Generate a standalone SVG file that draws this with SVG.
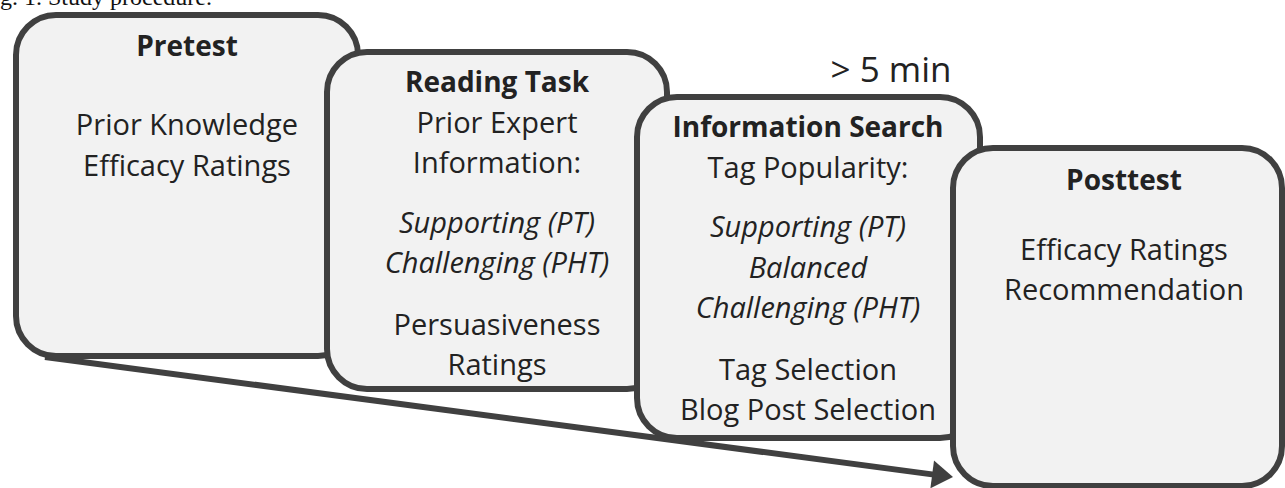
<svg xmlns="http://www.w3.org/2000/svg" width="1285" height="488" viewBox="0 0 1285 488">
<style>
.box{fill:#f2f2f2;stroke:#404040;stroke-width:6}
text{font-family:"Open Sans","Liberation Sans",sans-serif;fill:#222;text-anchor:middle;font-size:29px}
.h{font-weight:bold;font-size:28px}
.i{font-style:italic}
.cap{font-family:"Liberation Serif",serif;font-size:24px;text-anchor:start;fill:#111}
</style>
<text class="cap" x="0" y="5">g. 1. Study procedure.</text>
<g id="connectors">
<line x1="45" y1="357" x2="934" y2="474.6" stroke="#404040" stroke-width="6"/>
<polygon points="953,477 930.4,488.3 934,460.5" fill="#404040"/>
</g>
<g id="pretest">
<rect class="box" x="16" y="15" width="342" height="341" rx="40"/>
<text class="h" x="187" y="56">Pretest</text>
<text x="187" y="135">Prior Knowledge</text>
<text x="187" y="176">Efficacy Ratings</text>
</g>
<g id="reading">
<rect class="box" x="327" y="52" width="340" height="337" rx="40"/>
<text class="h" x="497" y="92">Reading Task</text>
<text x="497" y="133">Prior Expert</text>
<text x="497" y="173">Information:</text>
<text class="i" x="497" y="233">Supporting (PT)</text>
<text class="i" x="497" y="273">Challenging (PHT)</text>
<text x="497" y="335">Persuasiveness</text>
<text x="497" y="375">Ratings</text>
</g>
<text x="891" y="82" style="font-size:35px">&gt; 5 min</text>
<g id="search">
<rect class="box" x="637" y="97" width="343" height="341" rx="40"/>
<text class="h" x="808" y="137">Information Search</text>
<text x="808" y="178">Tag Popularity:</text>
<text class="i" x="808" y="237">Supporting (PT)</text>
<text class="i" x="808" y="278">Balanced</text>
<text class="i" x="808" y="318">Challenging (PHT)</text>
<text x="808" y="380">Tag Selection</text>
<text x="808" y="420">Blog Post Selection</text>
</g>
<g id="posttest">
<rect class="box" x="953" y="148" width="329" height="338" rx="40"/>
<text class="h" x="1124" y="190">Posttest</text>
<text x="1124" y="260">Efficacy Ratings</text>
<text x="1124" y="300">Recommendation</text>
</g>
</svg>
